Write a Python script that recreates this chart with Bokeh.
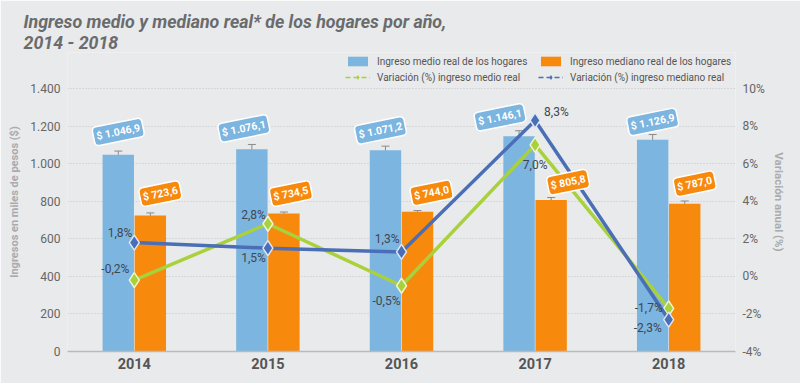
from bokeh.plotting import figure
from bokeh.models import (FactorRange, Range1d, LinearAxis, FixedTicker, Whisker,
                          ColumnDataSource, TeeHead, Legend, LegendItem, Title)
from bokeh.transform import dodge
from bokeh.core.properties import value
from bokeh.embed import file_html
from bokeh.resources import INLINE

# ---------------- data ----------------
years = ["2014", "2015", "2016", "2017", "2018"]
ingreso_medio = [1046.9, 1076.1, 1071.2, 1146.1, 1126.9]
ingreso_mediano = [723.6, 734.5, 744.0, 805.8, 787.0]
err_medio = [20, 26, 22, 29, 28]
err_mediano = [14, 8, 6, 14, 14]
var_medio = [-0.2, 2.8, -0.5, 7.0, -1.7]
var_mediano = [1.8, 1.5, 1.3, 8.3, -2.3]
label_medio = ["$ 1.046,9", "$ 1.076,1", "$ 1.071,2", "$ 1.146,1", "$ 1.126,9"]
label_mediano = ["$ 723,6", "$ 734,5", "$ 744,0", "$ 805,8", "$ 787,0"]
label_var_medio = ["-0,2%", "2,8%", "-0,5%", "7,0%", "-1,7%"]
label_var_mediano = ["1,8%", "1,5%", "1,3%", "8,3%", "-2,3%"]
left_ticks = [0, 200, 400, 600, 800, 1000, 1200, 1400]
left_tick_labels = ["0", "200", "400", "600", "800", "1.000", "1.200", "1.400"]
right_ticks = [-4, -2, 0, 2, 4, 6, 8, 10]
right_tick_labels = ["-4%", "-2%", "0%", "2%", "4%", "6%", "8%", "10%"]
title_text = "Ingreso medio y mediano real* de los hogares por año,\n2014 - 2018"
legend_labels = ["Ingreso medio real de los hogares", "Variación (%) ingreso medio real",
                 "Ingreso mediano real de los hogares", "Variación (%) ingreso mediano real"]

# ---------------- styles ----------------
FONT = "Roboto"
BG = "#e9eaeb"
BLUE = "#7cb5df"
ORANGE = "#f7890c"
GREEN = "#a9d13c"
DBLUE = "#4a6fb6"
GREY_TXT = "#666666"
AX_TXT = "#a9abae"

# layout: axis span (0..1400 / -4..10%) covers 263 px; frame extends 36 px higher
AXIS_PX = 263
EXTRA_PX = 36
Y_TOP = 1400 * (AXIS_PX + EXTRA_PX) / AXIS_PX
PCT_TOP = -4 + 14 * (AXIS_PX + EXTRA_PX) / AXIS_PX

# label placement (layout only)
med_dx = [-5, -2, -1, 0, -6]
med_dy = [-11, -9, 15, 20, 0]
med_align = ["right", "right", "right", "center", "right"]
mdn_dx = [-2, -2, -2, 9, -7]
mdn_dy = [-10, 10, -13, -8, 8]
mdn_align = ["right", "right", "right", "left", "right"]
badge_b_dx = [0, -8, -5, -19, 0]
badge_o_dx = [10, 7, 14, 17, 10]
badge_b_dy = [-3, -1, 0, 1, 2]
badge_o_dy = [-2, 0, 1, 2, 0]
BADGE_OFFSET = 106

src = ColumnDataSource(dict(
    year=years,
    medio=ingreso_medio, mediano=ingreso_mediano,
    medio_up=[v + e for v, e in zip(ingreso_medio, err_medio)],
    medio_lo=[v - e for v, e in zip(ingreso_medio, err_medio)],
    mediano_up=[v + e for v, e in zip(ingreso_mediano, err_mediano)],
    mediano_lo=[v - e for v, e in zip(ingreso_mediano, err_mediano)],
    medio_badge=[v + BADGE_OFFSET for v in ingreso_medio],
    mediano_badge=[v + BADGE_OFFSET for v in ingreso_mediano],
    lab_medio=label_medio, lab_mediano=label_mediano,
    var_medio=var_medio, var_mediano=var_mediano,
    lvm=label_var_medio, lvd=label_var_mediano,
    med_dx=med_dx, med_dy=med_dy, med_align=med_align,
    mdn_dx=mdn_dx, mdn_dy=mdn_dy, mdn_align=mdn_align,
    bbx=badge_b_dx, bby=badge_b_dy, box=badge_o_dx, boy=badge_o_dy,
))

p = figure(width=800, height=383, x_range=FactorRange(*years), y_range=Range1d(0, Y_TOP),
           output_backend="svg", toolbar_location=None,
           background_fill_color=BG, border_fill_color=BG, outline_line_color=None,
           min_border_left=67, min_border_right=65, min_border_top=88 - EXTRA_PX,
           min_border_bottom=32)
p.extra_y_ranges = {"pct": Range1d(-4, PCT_TOP)}

# grid
p.xgrid.grid_line_color = None
p.ygrid.grid_line_color = "#c4c5c7"
p.ygrid.grid_line_dash = "1 2"
p.ygrid.ticker = FixedTicker(ticks=left_ticks[1:])

# left axis
yax = p.yaxis[0]
yax.ticker = FixedTicker(ticks=left_ticks)
yax.major_label_overrides = {t: l for t, l in zip(left_ticks, left_tick_labels)}
yax.axis_line_color = None
yax.major_tick_line_color = None
yax.minor_tick_line_color = None
yax.major_tick_out = 0
yax.major_tick_in = 0
yax.minor_tick_out = 0
yax.major_label_text_color = GREY_TXT
yax.major_label_text_font = FONT
yax.major_label_text_font_size = "12px"
yax.major_label_standoff = 7
yax.axis_label = "Ingresos en miles de pesos ($)"
yax.axis_label_text_font = FONT
yax.axis_label_text_font_size = "11px"
yax.axis_label_text_font_style = "bold"
yax.axis_label_text_color = AX_TXT
yax.axis_label_standoff = 6

# right axis
rax = LinearAxis(y_range_name="pct", ticker=FixedTicker(ticks=right_ticks))
rax.major_label_overrides = {t: l for t, l in zip(right_ticks, right_tick_labels)}
rax.axis_line_color = None
rax.major_tick_line_color = None
rax.minor_tick_line_color = None
rax.major_tick_out = 0
rax.major_tick_in = 0
rax.minor_tick_out = 0
rax.major_label_text_color = GREY_TXT
rax.major_label_text_font = FONT
rax.major_label_text_font_size = "12px"
rax.major_label_standoff = 7
rax.axis_label = "Variación anual (%)"
rax.axis_label_text_font = FONT
rax.axis_label_text_font_size = "11.5px"
rax.axis_label_text_font_style = "bold"
rax.axis_label_text_color = AX_TXT
rax.axis_label_standoff = 4
p.add_layout(rax, "right")

# x axis
xax = p.xaxis[0]
xax.axis_line_color = "#b9babc"
xax.axis_line_width = 1.5
xax.major_tick_line_color = None
xax.minor_tick_line_color = None
xax.major_tick_out = 0
xax.major_tick_in = 0
xax.major_label_text_font = FONT
xax.major_label_text_font_size = "14.5px"
xax.major_label_text_font_style = "bold"
xax.major_label_text_color = "#555555"
xax.major_label_standoff = 6

# bars
xb = dodge("year", -0.12, range=p.x_range)
xo = dodge("year", 0.12, range=p.x_range)
r_medio = p.vbar(x=xb, top="medio", width=0.235, source=src, fill_color=BLUE, line_color=None)
r_mediano = p.vbar(x=xo, top="mediano", width=0.235, source=src, fill_color=ORANGE, line_color=None)

for base, up, lo in [(xb, "medio_up", "medio_lo"), (xo, "mediano_up", "mediano_lo")]:
    w = Whisker(source=src, base=base, upper=up, lower=lo, line_color="#8a8a8a", line_width=1,
                upper_head=TeeHead(size=8, line_color="#8a8a8a", line_width=1),
                lower_head=TeeHead(size=8, line_color="#8a8a8a", line_width=1))
    p.add_layout(w)

# lines
p.line(x="year", y="var_medio", source=src, y_range_name="pct", line_color=GREEN, line_width=3.5)
p.scatter(x="year", y="var_medio", source=src, y_range_name="pct", marker="diamond", size=15,
          fill_color=GREEN, line_color="#eef5d0", line_width=1.5)
p.line(x="year", y="var_mediano", source=src, y_range_name="pct", line_color=DBLUE, line_width=3.5)
p.scatter(x="year", y="var_mediano", source=src, y_range_name="pct", marker="diamond", size=15,
          fill_color=DBLUE, line_color="#dde6f5", line_width=1.5)

# percentage labels
p.text(x="year", y="var_medio", text="lvm", source=src, y_range_name="pct",
       x_offset="med_dx", y_offset="med_dy", text_align="med_align", text_baseline="middle",
       text_font=value(FONT), text_font_size="12px", text_color="#3f4650")
p.text(x="year", y="var_mediano", text="lvd", source=src, y_range_name="pct",
       x_offset="mdn_dx", y_offset="mdn_dy", text_align="mdn_align", text_baseline="middle",
       text_font=value(FONT), text_font_size="12px", text_color="#3f4650")

# value badges
p.text(x=xb, y="medio_badge", text="lab_medio", source=src, angle=0.2,
       x_offset="bbx", y_offset="bby",
       text_align="center", text_baseline="middle", text_color="white",
       text_font=value(FONT), text_font_size="10.5px", text_font_style="bold",
       background_fill_color=BLUE, border_line_color="white", border_line_width=1.5,
       padding=3, border_radius=4)
p.text(x=xo, y="mediano_badge", text="lab_mediano", source=src, angle=0.2,
       x_offset="box", y_offset="boy",
       text_align="center", text_baseline="middle", text_color="white",
       text_font=value(FONT), text_font_size="10.5px", text_font_style="bold",
       background_fill_color=ORANGE, border_line_color="white", border_line_width=1.5,
       padding=3, border_radius=4)

# legend: dashed-line icons come from undrawn helper renderers (NaN data)
nan = float("nan")
d_green = p.line(x=[years[0]], y=[nan], line_color=GREEN, line_width=1.5, line_dash="5 3")
s_green = p.scatter(x=[years[0]], y=[nan], marker="diamond", size=8, fill_color=GREEN, line_color=None)
d_blue = p.line(x=[years[0]], y=[nan], line_color=DBLUE, line_width=1.5, line_dash="5 3")
s_blue = p.scatter(x=[years[0]], y=[nan], marker="diamond", size=8, fill_color=DBLUE, line_color=None)
legend = Legend(items=[
    LegendItem(label=legend_labels[0], renderers=[r_medio]),
    LegendItem(label=legend_labels[1], renderers=[d_green, s_green]),
    LegendItem(label=legend_labels[2], renderers=[r_mediano]),
    LegendItem(label=legend_labels[3], renderers=[d_blue, s_blue]),
], orientation="vertical", ncols=2, location=(278, AXIS_PX + EXTRA_PX - 32),
    glyph_width=25, glyph_height=12, label_standoff=7, spacing=2, padding=2, margin=0,
    label_height=14, label_width=159, background_fill_alpha=0, border_line_color=None,
    label_text_font=FONT, label_text_font_size="10px", label_text_color="#555555")
p.add_layout(legend)

# title
p.add_layout(Title(text=title_text, align="left", offset=-44, text_font=FONT,
                   text_font_size="17.8px", text_font_style="bold italic",
                   text_color="#6a6b6d", text_line_height=1.0, standoff=0), "above")

open("out.html", "w").write(file_html(p, INLINE))
